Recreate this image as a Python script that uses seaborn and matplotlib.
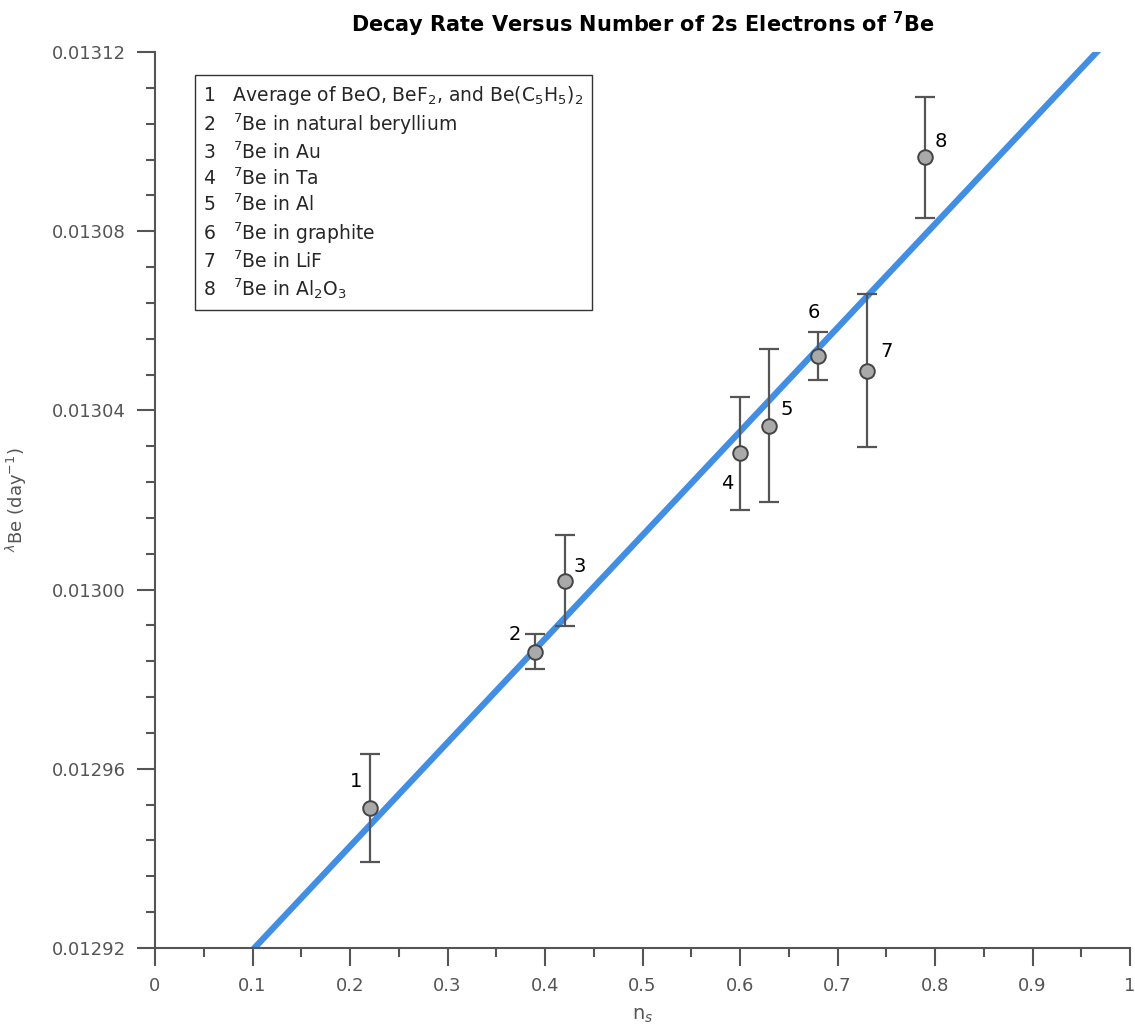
import matplotlib
matplotlib.use('Agg')
import matplotlib.pyplot as plt
from matplotlib.lines import Line2D
from matplotlib.ticker import MultipleLocator, FormatStrFormatter
import seaborn as sns
import pandas as pd

labels = ['1', '2', '3', '4', '5', '6', '7', '8']
n_s = [0.22, 0.39, 0.42, 0.60, 0.63, 0.68, 0.73, 0.79]
rate = [0.0129512, 0.0129861, 0.0130020, 0.0130304, 0.0130366, 0.0130521, 0.0130489, 0.0130965]
err = [0.0000121, 0.0000039, 0.0000102, 0.0000127, 0.0000170, 0.0000053, 0.0000170, 0.0000135]

# offsets (pixels) for the point numbers
label_dx = [-13, -20, 15, -13, 17, -4, 20, 16]
label_dy = [27, 17, 14, -30, 16, 44, 19, 16]

# linear fit
fit_slope = 2.3148e-4
fit_intercept = 0.0128964
fit_x = [0.0, 1.0]

legend_entries = [
    'Average of BeO, BeF$_2$, and Be(C$_5$H$_5$)$_2$',
    '$^7$Be in natural beryllium',
    '$^7$Be in Au',
    '$^7$Be in Ta',
    '$^7$Be in Al',
    '$^7$Be in graphite',
    '$^7$Be in LiF',
    '$^7$Be in Al$_2$O$_3$',
]

df = pd.DataFrame({'n_s': n_s, 'rate': rate, 'err': err, 'label': labels})
fit_df = pd.DataFrame({'x': fit_x, 'y': [fit_intercept + fit_slope * x for x in fit_x]})

sns.set_style('ticks')
plt.rcParams['font.family'] = ['DejaVu Sans']

grey = '#555555'
fig = plt.figure(figsize=(11.35, 10.3), dpi=100)
ax = fig.add_axes([155 / 1135, 1 - 948 / 1030, 975 / 1135, 896 / 1030])

sns.lineplot(data=fit_df, x='x', y='y', ax=ax, color='#428ee3', linewidth=4.5, zorder=2)
ax.errorbar(df['n_s'], df['rate'], yerr=df['err'], fmt='none', ecolor=grey,
            elinewidth=1.6, capsize=7, capthick=1.6, zorder=3)
sns.scatterplot(data=df, x='n_s', y='rate', ax=ax, s=110, color='#a9a9a9',
                edgecolor='#444444', linewidth=1.4, zorder=4)

for i, row in df.iterrows():
    ax.annotate(row['label'], (row['n_s'], row['rate']), xytext=(label_dx[i], label_dy[i]),
                textcoords='offset pixels', ha='center', va='center', fontsize=14, color='black')

ax.set_xlim(0, 1)
ax.set_ylim(0.01292, 0.01312)
ax.xaxis.set_major_locator(MultipleLocator(0.1))
ax.xaxis.set_minor_locator(MultipleLocator(0.05))
ax.yaxis.set_major_locator(MultipleLocator(0.00004))
ax.yaxis.set_minor_locator(MultipleLocator(0.000008))
ax.yaxis.set_major_formatter(FormatStrFormatter('%.5f'))
ax.xaxis.set_major_formatter(FormatStrFormatter('%g'))

sns.despine(ax=ax)
for side in ['left', 'bottom']:
    ax.spines[side].set_color(grey)
    ax.spines[side].set_linewidth(1.5)
ax.tick_params(which='major', length=13, width=1.5, color=grey, labelcolor=grey,
               labelsize=13, pad=8)
ax.tick_params(which='minor', length=6.5, width=1.5, color=grey)

ax.set_xlabel('n$_s$', color=grey, fontsize=14, labelpad=8)
ax.set_ylabel('$^{\\lambda}$Be (day$^{-1}$)', color=grey, fontsize=13, labelpad=16)
ax.set_title('Decay Rate Versus Number of 2s Electrons of $^\\mathbf{7}$Be',
             fontsize=15, fontweight='bold', color='black', pad=14)

handles = [Line2D([], [], linestyle='none') for _ in legend_entries]
leg_labels = [f'{num}   {txt}' for num, txt in zip(labels, legend_entries)]
leg = ax.legend(handles, leg_labels, loc='upper left', bbox_to_anchor=(0.041, 0.974),
                borderaxespad=0, handlelength=0, handletextpad=0, fontsize=13.5,
                frameon=True, fancybox=False, edgecolor='black', labelspacing=0.25,
                borderpad=0.45)
leg.get_frame().set_linewidth(1.0)

fig.savefig('out.png', dpi=100)
